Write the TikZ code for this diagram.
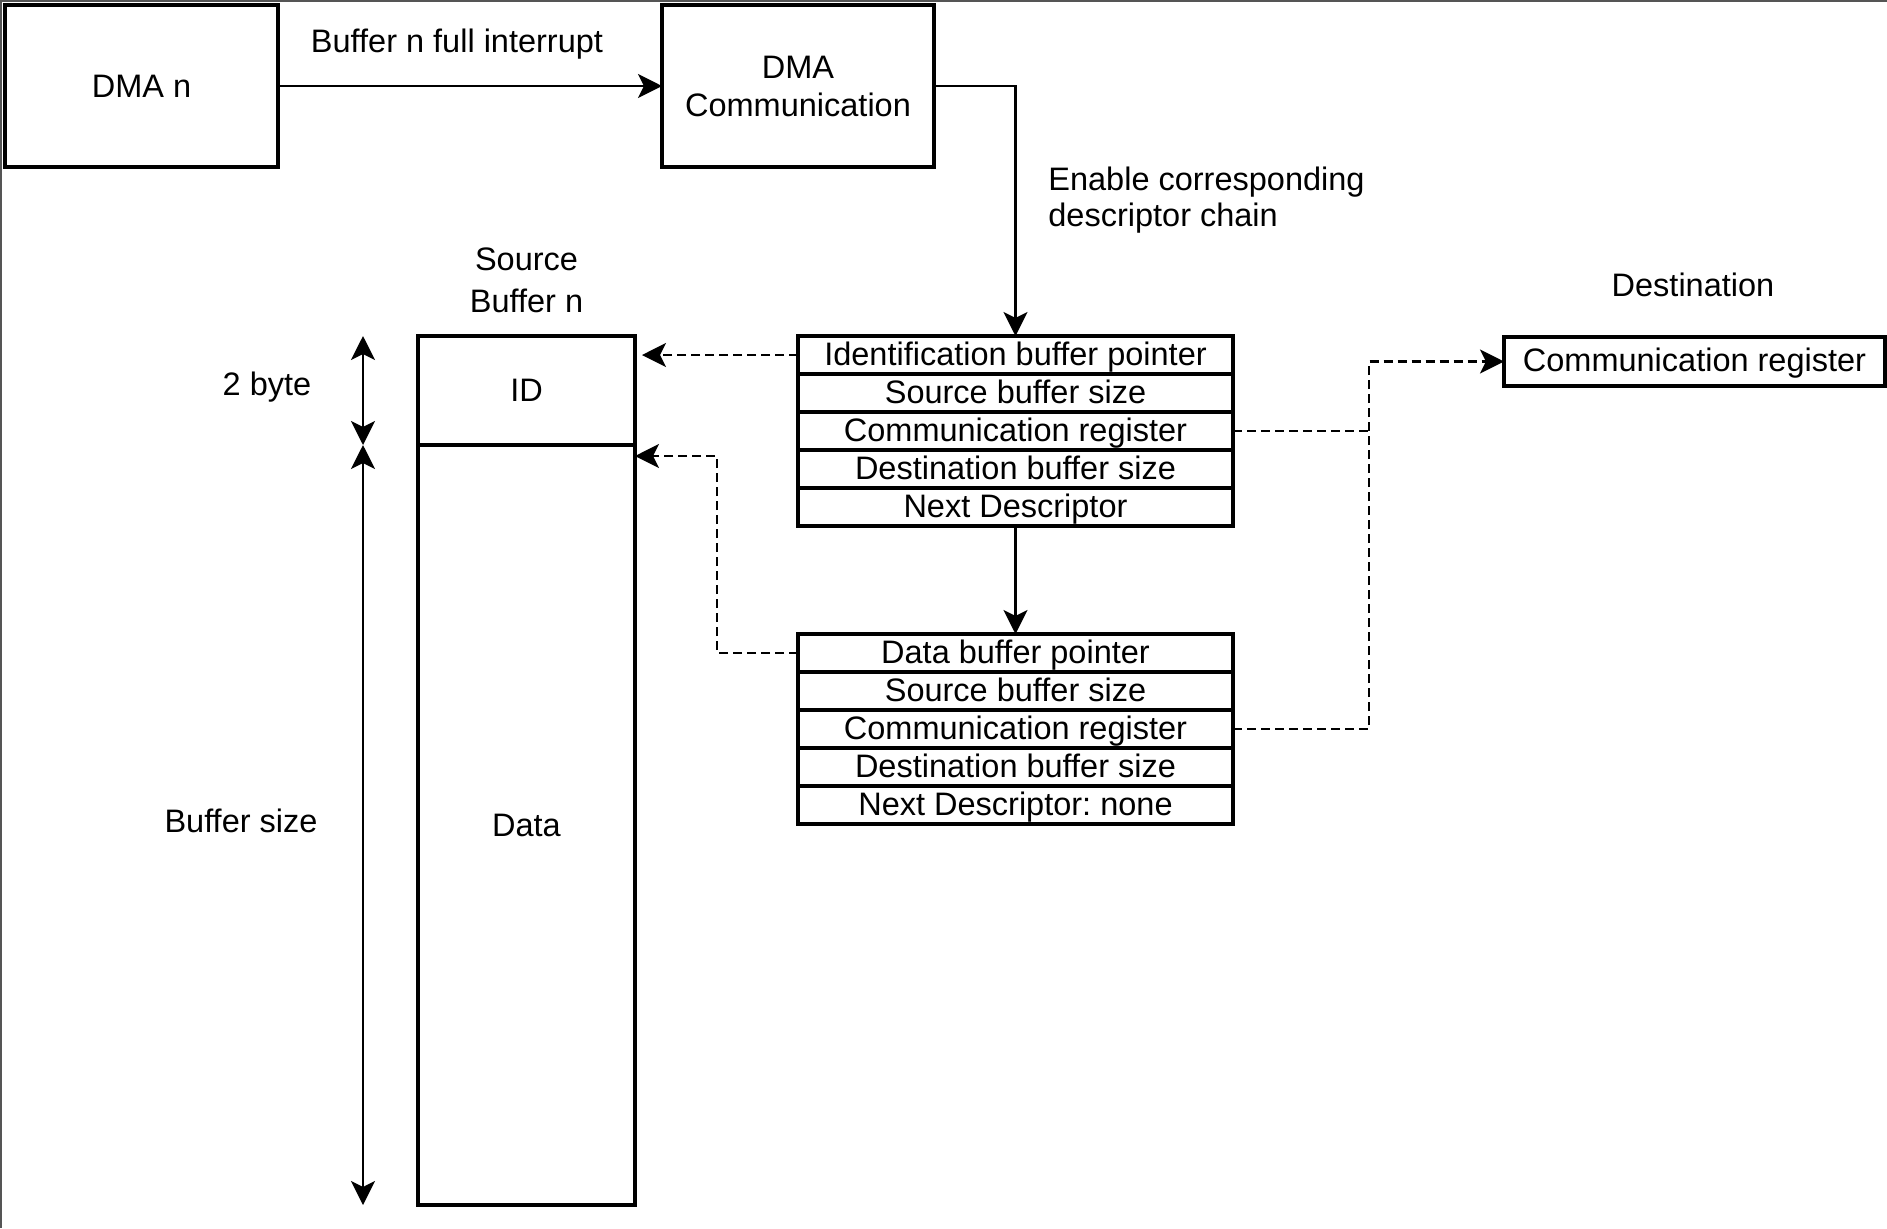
\documentclass[tikz,border=0pt]{standalone}
\usepackage{fontspec}
\setmainfont{Liberation Sans}
\usetikzlibrary{arrows.meta}
\usetikzlibrary{positioning}
\usetikzlibrary{calc}
\definecolor{FrameGrey}{HTML}{555555}
\tikzset{
	box/.style={draw, line width=1.6pt, inner sep=0pt, outer sep=0pt, align=center},
	row/.style={box, minimum width=217.5pt, minimum height=19pt, text height=12pt, text depth=2pt},
	lbl/.style={inner sep=0pt, align=center},
	link/.style={line width=1.3pt, arrows={-Stealth[length=12pt, width=12pt, inset=3pt]}},
	tie/.style={line width=1.3pt, dash pattern=on 4.5pt off 2.5pt},
	ptr/.style={tie, arrows={-Stealth[length=12pt, width=12pt, inset=3pt]}},
	dim/.style={line width=1.3pt, arrows={Stealth[length=12pt, width=12pt, inset=3pt]-Stealth[length=12pt, width=12pt, inset=3pt]}}
}

\begin{document}
\begin{tikzpicture}[x=0.5pt, y=-0.5pt, font=\fontsize{16.25}{19}\selectfont]
	\useasboundingbox (0,0) rectangle (1887,1228);
	\draw[FrameGrey, line width=1pt] (1,1228) -- (1,1) -- (1887,1);

	% DMA channels
	\node[box, minimum width=136.5pt, minimum height=81pt] (dman) at (141.5,86) {DMA n};
	\node[box, minimum width=136pt, minimum height=81pt] (dmacomm) at (798,86) {DMA\\Communication};
	\node[lbl] (lblirq) at (457,44) {Buffer n full interrupt};
	\draw[link] (dman) -- (dmacomm);

	% source buffer
	\node[lbl, font=\fontsize{16.25}{21}\selectfont] (lblsrc) at (526.5,280) {Source\\Buffer n};
	\node[box, minimum width=108.5pt, minimum height=54.5pt] (id) at (526.5,390.5) {ID};
	\node[box, minimum width=108.5pt, minimum height=380pt, below=0pt of id] (data) {Data};
	\coordinate (dimtop) at ($(id.north west)+(-55,0)$);
	\coordinate (dimmid) at ($(id.south west)+(-55,0)$);
	\coordinate (dimbot) at ($(data.south west)+(-55,0)$);
	\draw[dim] (dimtop) -- (dimmid);
	\draw[dim] (dimmid) -- (dimbot);
	\node[lbl] (lblid) at (267,387) {2 byte};
	\node[lbl] (lbldata) at (241,821) {Buffer size};

	% descriptor chain
	\node[lbl, anchor=west, align=left, font=\fontsize{16.25}{18}\selectfont] (lblenable) at (1048,200) {Enable corresponding\\descriptor chain};
	\foreach \txt [count=\i] in {Identification buffer pointer,Source buffer size,Communication register,Destination buffer size,Next Descriptor}
		\node[row] (dA\i) at (1015.5,{355+38*(\i-1)}) {\txt};
	\foreach \txt [count=\i] in {Data buffer pointer,Source buffer size,Communication register,Destination buffer size,Next Descriptor:\ none}
		\node[row] (dB\i) at (1015.5,{653+38*(\i-1)}) {\txt};
	\draw[link] (dmacomm.east) -| (dA1.north);
	\draw[link] (dA5.south) -- (dB1.north);

	% destination
	\node[lbl] (lbldest) at (1693,285) {Destination};
	\node[box, minimum width=190.5pt, minimum height=24.5pt, text height=12pt, text depth=2pt] (dest) at (1694.5,361.5) {Communication register};

	% pointers
	\draw[ptr, shorten >=3.5pt] (dA1.west) -- (dA1.west -| id.east);
	\coordinate (datain) at ($(data.north east)+(0,11)$);
	\draw[ptr] (dB1.west) -- ++(-81,0) |- (datain);
	\draw[tie] (dA3.east) -- ++(136,0);
	\draw[ptr] (dB3.east) -- ++(136,0) |- (dest.west);
\end{tikzpicture}
\end{document}
